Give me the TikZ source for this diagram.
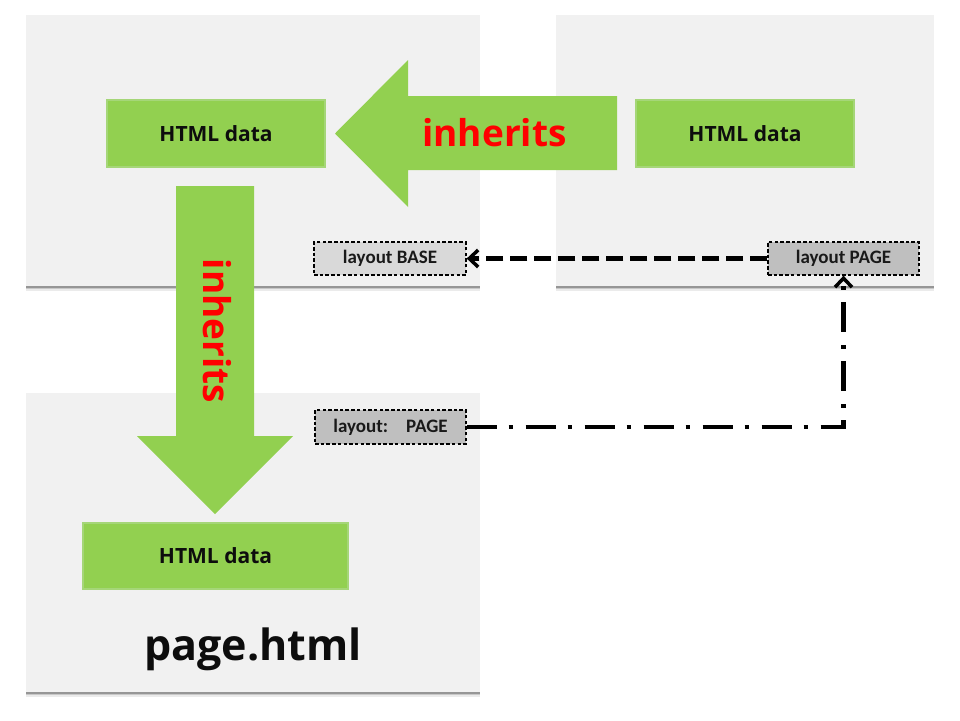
\documentclass[tikz,border=0pt]{standalone}
\usepackage{fontspec}
\setmainfont{Open Sans}
\newfontfamily\layfont{Carlito}
\usetikzlibrary{arrows.meta,shadows}
\definecolor{panelgray}{RGB}{241,241,241}
\definecolor{leafgreen}{RGB}{146,208,80}
\definecolor{softgreen}{RGB}{165,214,120}
\definecolor{inhred}{RGB}{255,0,0}
\definecolor{basegray}{RGB}{217,217,217}
\definecolor{pagegray}{RGB}{191,191,191}
\tikzset{
  panel/.style={anchor=north west, inner sep=0pt, fill=panelgray,
    drop shadow={shadow xshift=0pt, shadow yshift=-4.5pt, opacity=0.08, fill=black},
    drop shadow={shadow xshift=0pt, shadow yshift=-3pt, opacity=0.15, fill=black},
    drop shadow={shadow xshift=0pt, shadow yshift=-1.5pt, opacity=0.25, fill=black}},
  htmlbox/.style={fill=leafgreen, draw=softgreen, line width=1.5pt, inner sep=0pt,
    font=\bfseries\fontsize{21}{25}\selectfont, text=black!95},
  layoutbox/.style={draw=black, line width=1.3pt, dash pattern=on 3.5pt off 2.2pt,
    inner sep=0pt, font=\layfont\bfseries\fontsize{19}{22}\selectfont, text=black!90},
  bigarrow/.style={fill=leafgreen, draw=none},
  inhtext/.style={text=inhred, font=\bfseries\fontsize{37}{44}\selectfont, inner sep=0pt},
  dashconn/.style={line width=4.5pt, dash pattern=on 17pt off 7pt,
    -{Straight Barb[length=9pt,width=17pt,line width=3.5pt]}},
  dashdotconn/.style={line width=4.5pt, dash pattern=on 30pt off 12pt on 4pt off 13pt,
    -{Straight Barb[length=9pt,width=17pt,line width=3.5pt]}},
}
\begin{document}
\begin{tikzpicture}[x=1pt,y=-1pt]
\useasboundingbox (0,0) rectangle (960,720);
% panels
\node[panel, minimum width=454pt, minimum height=271pt] (p1) at (26,15) {};
\node[panel, minimum width=378pt, minimum height=271pt] (p2) at (556,15) {};
\node[panel, minimum width=454pt, minimum height=299pt] (p3) at (26,393) {};
% HTML data boxes
\node[htmlbox, minimum width=218pt, minimum height=67pt] (h1) at (216,133.5) {HTML data};
\node[htmlbox, minimum width=218pt, minimum height=67pt] (h2) at (745,133.5) {HTML data};
\node[htmlbox, minimum width=265pt, minimum height=66pt] (h3) at (215.5,556) {HTML data};
% big inherit arrows
\path[bigarrow] (617,96) -- (408,96) -- (408,60) -- (335,133.5) -- (408,207) -- (408,170) -- (617,170) -- cycle;
\path[bigarrow] (176,186) -- (254,186) -- (254,436) -- (293,436) -- (215,514) -- (137,436) -- (176,436) -- cycle;
\node[inhtext, anchor=base] (inh1) at (494.5,146) {inherits};
\node[inhtext, anchor=base, rotate=-90] (inh2) at (203,331) {inherits};
% title
\node[anchor=base, inner sep=0pt, font=\bfseries\fontsize{43}{50}\selectfont, text=black!95] (title) at (253,660) {page.html};
% layout boxes
\node[layoutbox, fill=basegray, minimum width=152pt, minimum height=33pt] (base) at (390,258.5) {layout BASE};
\node[layoutbox, fill=pagegray, minimum width=151pt, minimum height=33pt] (pager) at (843.5,258.5) {layout PAGE};
\node[layoutbox, fill=pagegray, minimum width=151pt, minimum height=34pt] (layp) at (390.5,427) {layout:\hspace{18pt}PAGE};
% connectors
\draw[dashconn] (pager.west) -- (base.east);
\draw[dashdotconn] (layp.east) -| (pager.south);
\end{tikzpicture}
\end{document}
